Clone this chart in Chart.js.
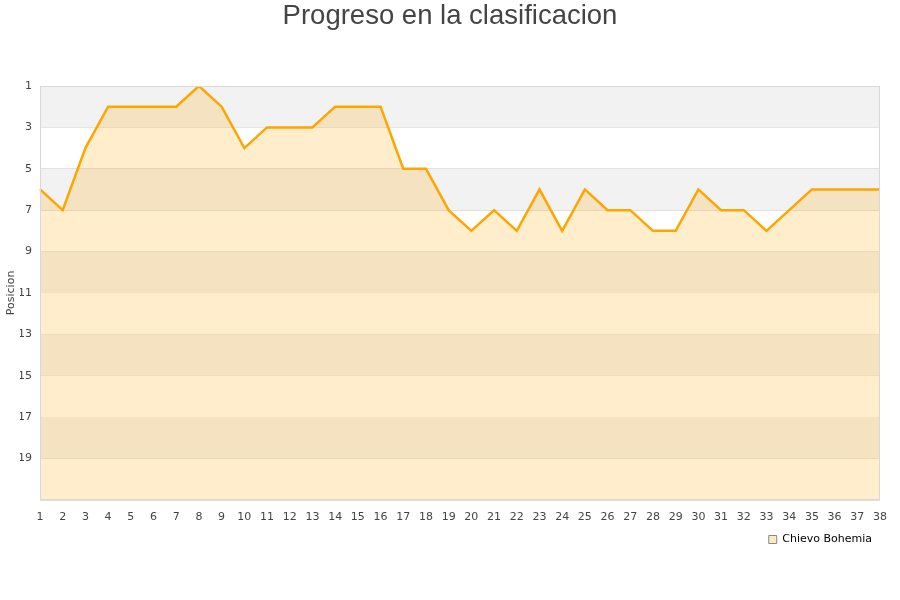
<!DOCTYPE html>
<html>
<head>
<meta charset="utf-8">
<script src="https://cdn.jsdelivr.net/npm/chart.js@4"></script>
<style>
  html, body {margin: 0; padding: 0; background: #fff;}
  #wrap {width: 900px; height: 600px;}
</style>
</head>
<body>
<div id="wrap"><canvas id="progreso"></canvas></div>
<script>
// jornadas 1..38
const jornadas = ['1','2','3','4','5','6','7','8','9','10','11','12','13','14','15','16','17','18','19',
    '20','21','22','23','24','25','26','27','28','29','30','31','32','33','34','35','36','37','38'];
// posicion por jornada
const posiciones = [6, 7, 4, 2, 2, 2, 2, 1, 2, 4, 3, 3, 3, 2, 2, 2, 5, 5, 7,
    8, 7, 8, 6, 8, 6, 7, 7, 8, 8, 6, 7, 7, 8, 7, 6, 6, 6, 6];
const equipo = 'Chievo Bohemia';
const posMin = 1;
const posMax = 21;

// bandas alternas gris / blanco cada 2 posiciones
const bandas = {
    id: 'bandas',
    beforeDatasetsDraw(chart) {
        const {ctx, chartArea, scales: {y}} = chart;
        ctx.save();
        for (let v = posMin; v < posMax; v += 4) {
            const y1 = y.getPixelForValue(v);
            const y2 = y.getPixelForValue(v + 2);
            ctx.fillStyle = '#f2f2f2';
            ctx.fillRect(chartArea.left, y1, chartArea.width, y2 - y1);
        }
        ctx.restore();
    },
    afterDraw(chart) {
        const {ctx, chartArea} = chart;
        ctx.save();
        ctx.strokeStyle = '#d8d8d8';
        ctx.lineWidth = 1;
        ctx.strokeRect(chartArea.left + 0.5, chartArea.top + 0.5, chartArea.width - 1, chartArea.height);
        ctx.restore();
    },
};

new Chart(document.getElementById('progreso').getContext('2d'), {
    type: 'line',
    data: {
        labels: jornadas,
        datasets: [{
            label: equipo,
            data: posiciones,
            borderColor: '#ffa500',
            borderWidth: 2.5,
            backgroundColor: 'rgba(255,165,0,0.2)',
            fill: 'start',
            tension: 0,
            pointRadius: 0,
        }],
    },
    plugins: [bandas],
    options: {
        responsive: true,
        maintainAspectRatio: false,
        animation: false,
        layout: {padding: {left: 20, right: 20, top: 0, bottom: 45}},
        plugins: {
            title: {
                display: true,
                text: 'Progreso en la clasificacion',
                color: '#444',
                font: {family: 'Liberation Sans, Arial, sans-serif', size: 27.5, weight: 'normal'},
                padding: {top: 0, bottom: 53},
            },
            legend: {
                position: 'bottom',
                align: 'end',
                labels: {
                    color: '#222',
                    font: {family: 'DejaVu Sans', size: 11},
                    boxWidth: 8,
                    boxHeight: 8,
                    padding: 8,
                    generateLabels: (chart) => [{
                        text: equipo,
                        fillStyle: '#fde9c4',
                        strokeStyle: '#888',
                        lineWidth: 1,
                        datasetIndex: 0,
                    }],
                },
            },
            tooltip: {enabled: false},
        },
        scales: {
            x: {
                offset: false,
                grid: {display: false},
                border: {display: false},
                ticks: {
                    color: '#444',
                    font: {family: 'DejaVu Sans', size: 11},
                    maxRotation: 0,
                    autoSkip: false,
                    padding: 2.5,
                },
            },
            y: {
                reverse: true,
                min: posMin,
                max: posMax,
                afterFit: (s) => { s.width = 20; },
                grid: {color: '#dddddd', drawTicks: false},
                border: {display: false},
                title: {
                    display: true,
                    text: 'Posicion',
                    color: '#444',
                    font: {family: 'DejaVu Sans', size: 11},
                    padding: {top: -15, bottom: 0},
                },
                ticks: {
                    stepSize: 2,
                    color: '#444',
                    font: {family: 'DejaVu Sans', size: 11},
                    padding: 8,
                    callback: (v) => (v === posMax ? '' : v),
                },
            },
        },
    },
});
</script>
</body>
</html>
